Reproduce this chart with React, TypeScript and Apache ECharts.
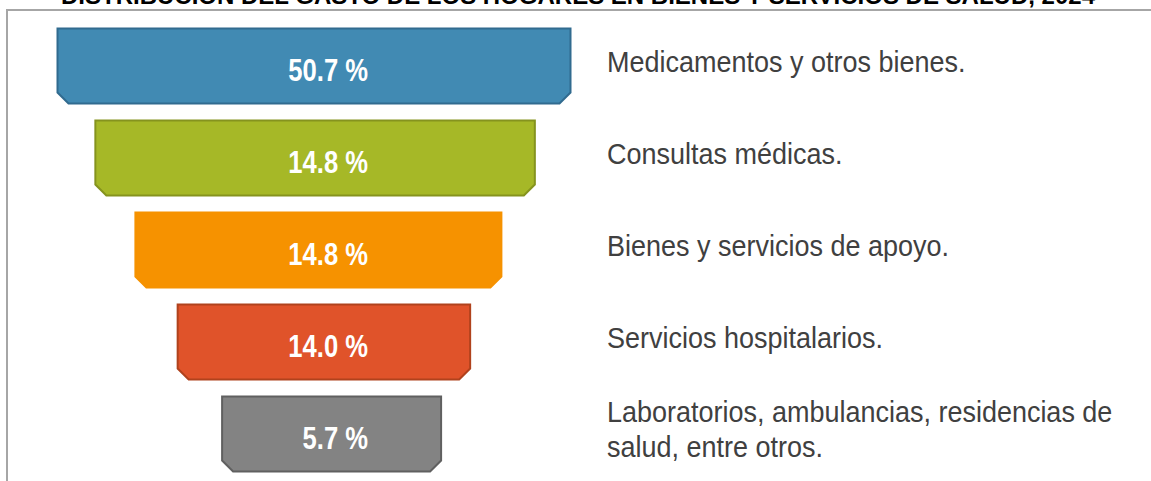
import React, { useEffect, useRef } from "react";
import * as echarts from "echarts";

const TITLE = "DISTRIBUCIÓN DEL GASTO DE LOS HOGARES EN BIENES Y SERVICIOS DE SALUD, 2024";
const categories = [
  "Medicamentos y otros bienes.",
  "Consultas médicas.",
  "Bienes y servicios de apoyo.",
  "Servicios hospitalarios.",
  "Laboratorios, ambulancias, residencias de\nsalud, entre otros.",
];
const values = [50.7, 14.8, 14.8, 14.0, 5.7];
const fills = ["#418AB3", "#A6B827", "#F69200", "#E0532A", "#838383"];
const strokes = ["#316B8F", "#85931E", "#F69200", "#B0421D", "#606060"];

const FONT = '"Liberation Sans", Arial, sans-serif';

export default function App() {
  const ref = useRef<HTMLDivElement>(null);
  useEffect(() => {
    if (!ref.current) return;
    const chart = echarts.init(ref.current, undefined, { renderer: "svg" });
    const option: any = {
      animation: false,
      backgroundColor: "#ffffff",
      grid: { left: 0, right: 0, top: 20, bottom: 1, containLabel: false },
      xAxis: { type: "value", min: 0, max: 1151, show: false },
      yAxis: { type: "category", data: categories, inverse: true, show: false },
      graphic: [
        {
          type: "rect",
          shape: { x: 7, y: 10, width: 1200, height: 520 },
          style: { fill: "none", stroke: "#A6A6A6", lineWidth: 2 },
          silent: true,
        },
        {
          type: "text",
          x: 578,
          y: -5,
          style: {
            text: TITLE,
            fill: "#000",
            font: `bold 24px ${FONT}`,
            align: "center",
            verticalAlign: "middle",
          },
        },
      ],
      series: [
        {
          type: "custom",
          data: values.map((v, i) => [v, i]),
          encode: { x: 0, y: 1 },
          renderItem: (params: any, api: any) => {
            const i = params.dataIndex;
            const v = values[i];
            const cy = api.coord([0, i])[1];
            const band = api.size([0, 1])[1];
            const h = band * 0.815;
            const w = 513 - 73.5 * i;
            const cx = api.coord([314 + 1.1 * i * i, i])[0];
            const l = cx - w / 2;
            const r = cx + w / 2;
            const t = cy - h / 2;
            const b = cy + h / 2;
            const c = 11;
            return {
              type: "group",
              children: [
                {
                  type: "polygon",
                  shape: {
                    points: [
                      [l, t],
                      [r, t],
                      [r, b - c],
                      [r - c, b],
                      [l + c, b],
                      [l, b - c],
                    ],
                  },
                  style: { fill: fills[i], stroke: strokes[i], lineWidth: 2 },
                },
                {
                  type: "text",
                  x: 368,
                  y: cy + 4,
                  scaleX: 0.8,
                  style: {
                    text: v.toFixed(1) + " %",
                    fill: "#fff",
                    font: `bold 32px ${FONT}`,
                    align: "right",
                    verticalAlign: "middle",
                  },
                },
                {
                  type: "text",
                  x: 607,
                  y: cy - 5,
                  scaleX: 0.9,
                  style: {
                    text: categories[i],
                    fill: "#404040",
                    font: `30px ${FONT}`,
                    lineHeight: 35,
                    align: "left",
                    verticalAlign: "middle",
                  },
                },
              ],
            };
          },
        },
      ],
    };
    chart.setOption(option);
    return () => chart.dispose();
  }, []);
  return (
    <div
      ref={ref}
      style={{ position: "absolute", left: 0, top: 0, width: 1151, height: 481 }}
    />
  );
}
